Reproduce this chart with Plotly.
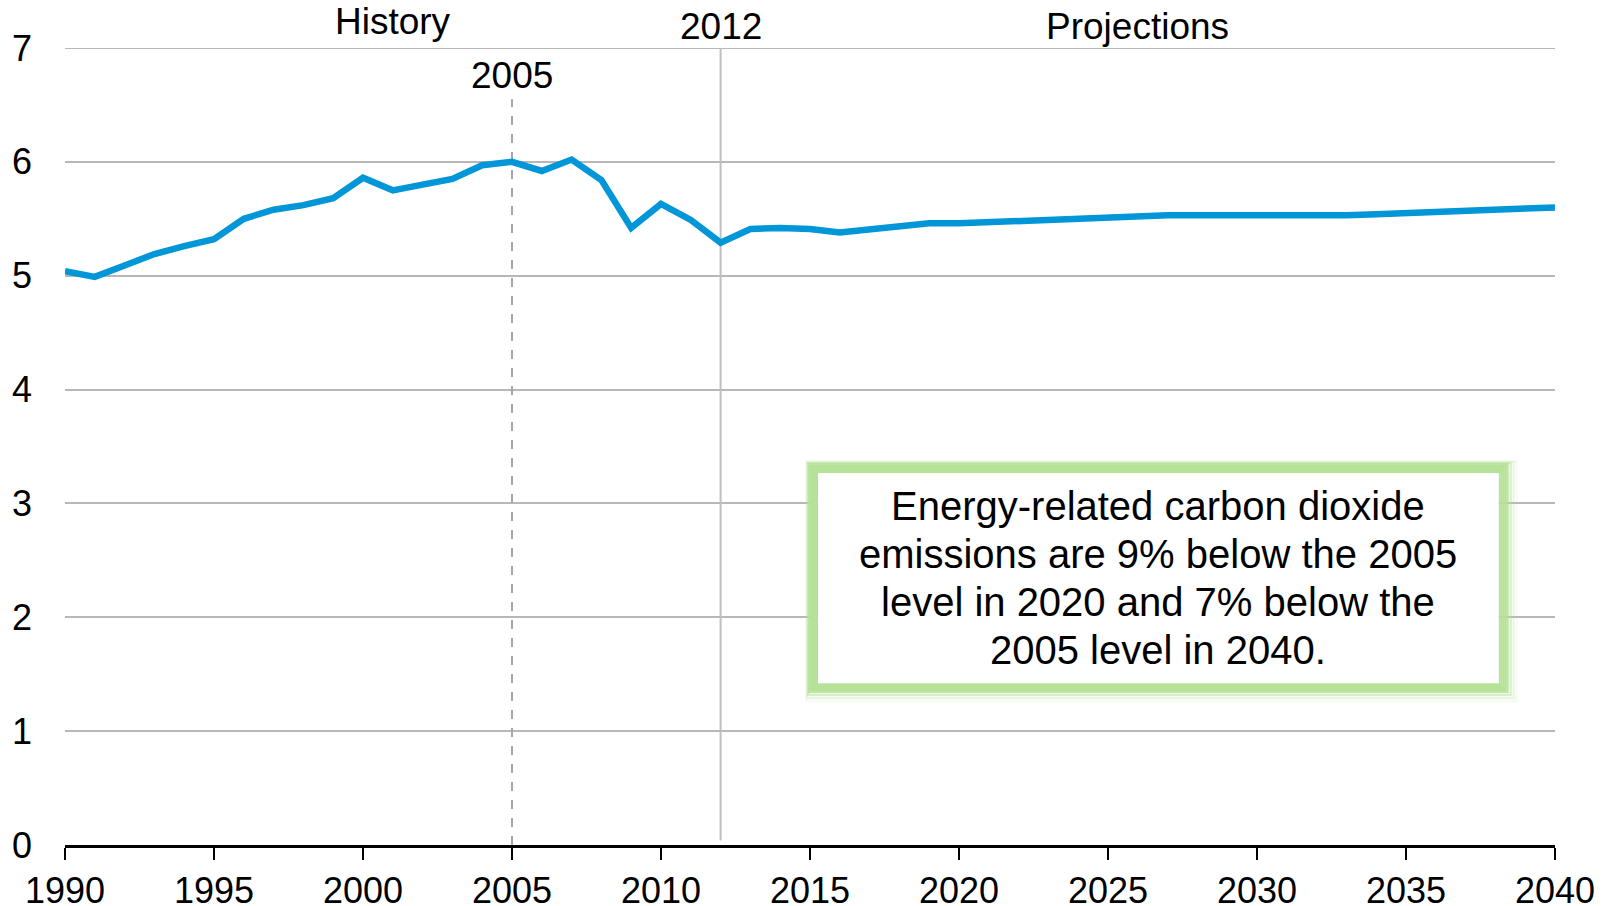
import plotly.graph_objects as go

years = list(range(1990, 2041))
emissions = [
    5.04, 4.99, 5.09, 5.19, 5.26, 5.32, 5.50, 5.58, 5.62, 5.68,
    5.86, 5.75, 5.80, 5.85, 5.97, 6.00, 5.92, 6.02, 5.84, 5.42,
    5.63, 5.49, 5.29, 5.41, 5.42, 5.41, 5.38, 5.41, 5.44, 5.46,
    5.46, 5.47, 5.48, 5.49, 5.51, 5.52, 5.52, 5.53, 5.53, 5.53,
    5.52, 5.52, 5.52, 5.53, 5.54, 5.55, 5.56, 5.57, 5.58, 5.59,
    5.60,
]
x_ticks = list(range(1990, 2041, 5))
y_ticks = list(range(0, 8))
note_lines = [
    "Energy-related carbon dioxide",
    "emissions are 9% below the 2005",
    "level in 2020 and 7% below the",
    "2005 level in 2040.",
]

FONT = "Liberation Sans, Arial, sans-serif"
BLUE = "#0096d7"
GRID = "#b8b8b8"

fig = go.Figure()
fig.add_trace(go.Scatter(
    x=years, y=emissions, mode="lines",
    line=dict(color=BLUE, width=6.5), hoverinfo="skip", showlegend=False,
))

# top gridline (plotly omits the one on the plot edge)
fig.add_shape(type="line", x0=0, x1=1, xref="paper", y0=y_ticks[-1], y1=y_ticks[-1],
              yref="y", line=dict(color=GRID, width=2), layer="between")

# reference lines
fig.add_shape(type="line", x0=2005, x1=2005, y0=0, y1=6.55, xref="x", yref="y",
              line=dict(color="#a6a6a6", width=2, dash="dash"), layer="between")
fig.add_shape(type="line", x0=2012, x1=2012, y0=0.04, y1=7, xref="x", yref="y",
              line=dict(color="#c0c0c0", width=2), layer="between")

# text box with green glow
bx0, bx1, by0, by1 = 2015.27, 2038.11, 1.421, 3.266
PX = 50 / 1489.9   # years per pixel
PY = 7 / 796.7     # units per pixel
green = "rgb(182,226,152)"
for k, op in [(1, 1), (3, 1), (5, 1), (7, 1), (9, 0.85), (11, 0.55), (13, 0.3), (15, 0.12)]:
    sx = 0.0 if k <= 9 else (k - 9) * 0.5
    fig.add_shape(type="rect",
                  x0=bx0 - k * PX + sx * PX, x1=bx1 + k * PX + sx * PX,
                  y0=by0 - k * PY - sx * PY, y1=by1 + k * PY - sx * PY,
                  xref="x", yref="y", line=dict(color=green, width=2.2),
                  fillcolor="rgba(0,0,0,0)", opacity=op, layer="above")
fig.add_shape(type="rect", x0=bx0, x1=bx1, y0=by0, y1=by1, xref="x", yref="y",
              line=dict(width=0), fillcolor="white", layer="above")

cx = (bx0 + bx1) / 2
for txt, yv in zip(note_lines, [2.979, 2.557, 2.136, 1.714]):
    fig.add_annotation(x=cx, y=yv, xref="x", yref="y", text=txt, showarrow=False,
                       font=dict(family=FONT, size=40, color="black"))

# header labels (above plot area, paper coords for y)
for txt, xv, yv in [("History", 2001, 1.033), ("2012", 2012, 1.027),
                    ("Projections", 2026, 1.027)]:
    fig.add_annotation(x=xv, y=yv, xref="x", yref="paper", yanchor="middle",
                       text=txt, showarrow=False,
                       font=dict(family=FONT, size=37, color="black"))
fig.add_annotation(x=2005, y=6.757, xref="x", yref="y", text="2005", showarrow=False,
                   font=dict(family=FONT, size=37, color="black"))

fig.update_layout(
    width=1610, height=906,
    margin=dict(l=65, r=55, t=48, b=61),
    paper_bgcolor="white", plot_bgcolor="white",
    font=dict(family=FONT, size=36, color="black"),
    xaxis=dict(range=[1990, 2040], tickvals=x_ticks, ticktext=[str(v) for v in x_ticks],
               showgrid=False, zeroline=False, showline=True, linecolor="black",
               linewidth=3, ticks="outside", tickcolor="black", ticklen=12,
               tickwidth=2, ticklabelstandoff=0, automargin=False),
    yaxis=dict(range=[0, 7], tickvals=y_ticks, showgrid=True, gridcolor=GRID,
               gridwidth=2, zeroline=False, showline=False, ticks="",
               ticklabelstandoff=32, automargin=False),
)

fig.write_html("out.html", config={"displayModeBar": False},
               post_script="document.body.style.margin='0';")
